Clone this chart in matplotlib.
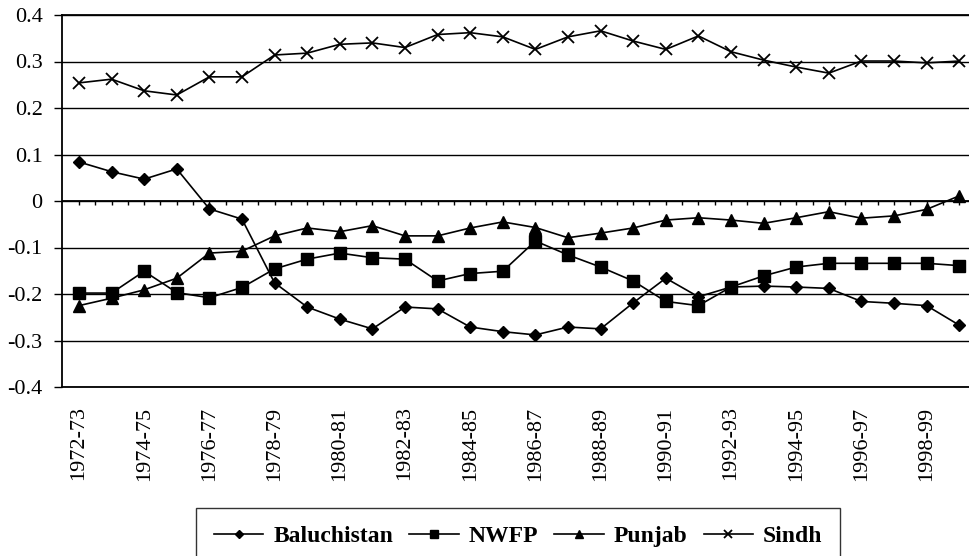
import matplotlib
matplotlib.use("Agg")
import matplotlib.pyplot as plt
import numpy as np

plt.rcParams['font.family'] = ['Liberation Serif', 'DejaVu Serif']

years = ['1972-73', '1973-74', '1974-75', '1975-76', '1976-77', '1977-78', '1978-79',
         '1979-80', '1980-81', '1981-82', '1982-83', '1983-84', '1984-85', '1985-86',
         '1986-87', '1987-88', '1988-89', '1989-90', '1990-91', '1991-92', '1992-93',
         '1993-94', '1994-95', '1995-96', '1996-97', '1997-98', '1998-99', '1999-00']

baluchistan = [0.084, 0.063, 0.047, 0.069, -0.017, -0.039, -0.176, -0.228, -0.254, -0.275,
               -0.228, -0.232, -0.271, -0.281, -0.288, -0.271, -0.275, -0.219, -0.166, -0.206,
               -0.185, -0.183, -0.185, -0.188, -0.216, -0.220, -0.225, -0.267]
nwfp = [-0.198, -0.198, -0.151, -0.197, -0.208, -0.186, -0.146, -0.125, -0.112, -0.122,
        -0.125, -0.172, -0.156, -0.151, -0.086, -0.116, -0.142, -0.172, -0.216, -0.225,
        -0.185, -0.161, -0.142, -0.134, -0.134, -0.134, -0.134, -0.139]
punjab = [-0.225, -0.209, -0.191, -0.166, -0.112, -0.108, -0.075, -0.058, -0.066, -0.053,
          -0.075, -0.075, -0.058, -0.045, -0.057, -0.079, -0.069, -0.058, -0.041, -0.036,
          -0.041, -0.048, -0.036, -0.023, -0.037, -0.032, -0.018, 0.011]
sindh = [0.254, 0.262, 0.237, 0.228, 0.267, 0.267, 0.314, 0.318, 0.337, 0.340,
         0.330, 0.358, 0.362, 0.353, 0.326, 0.353, 0.366, 0.344, 0.326, 0.355,
         0.321, 0.303, 0.288, 0.275, 0.301, 0.301, 0.297, 0.301]

x = np.arange(len(years))

fig = plt.figure(figsize=(9.69, 5.56), dpi=100)
ax = fig.add_axes([62/969, 169/556, 907/969, 372/556])

lw = 1.2
ax.plot(x, baluchistan, color='black', lw=lw, marker='D', ms=6.5, label='Baluchistan')
ax.plot(x, nwfp, color='black', lw=lw, marker='s', ms=8, label='NWFP')
ax.plot(x, punjab, color='black', lw=lw, marker='^', ms=9, label='Punjab')
ax.plot(x, sindh, color='black', lw=lw, marker='x', ms=9, mew=1.3, label='Sindh')

ax.set_ylim(-0.4, 0.4)
ax.set_xlim(-0.52, 27.3)
yt = np.round(np.arange(-0.4, 0.41, 0.1), 1)
ax.set_yticks(yt)
ax.set_yticklabels(['0' if v == 0 else f'{v:.1f}' for v in yt], fontsize=16)
ax.yaxis.grid(True, color='black', lw=1.0)
ax.set_axisbelow(True)
ax.axhline(0, color='black', lw=1.3, zorder=1)

# small tick marks along the zero line
zt = np.arange(0, len(years), 0.5)
ax.vlines(zt, -0.009, 0, color='black', lw=1.0, zorder=1)

ax.set_xticks(x[::2])
ax.set_xticklabels(years[::2], rotation=90, fontsize=16)
ax.tick_params(axis='x', length=0, pad=14)
ax.tick_params(axis='y', length=6, width=1.0, direction='out', pad=8)

for s in ['left', 'bottom', 'top']:
    ax.spines[s].set_linewidth(1.3)
ax.spines['right'].set_visible(False)

leg = fig.legend(loc='upper left', bbox_to_anchor=(196/969, 1 - 508/556), ncol=4,
                 prop={'weight': 'bold', 'size': 17}, frameon=True, fancybox=False,
                 edgecolor='black', borderpad=0.75, borderaxespad=0, handlelength=2.1,
                 handletextpad=0.42, columnspacing=0.68, markerscale=0.65)
leg.get_frame().set_linewidth(1.0)

fig.savefig('out.png', dpi=100)
